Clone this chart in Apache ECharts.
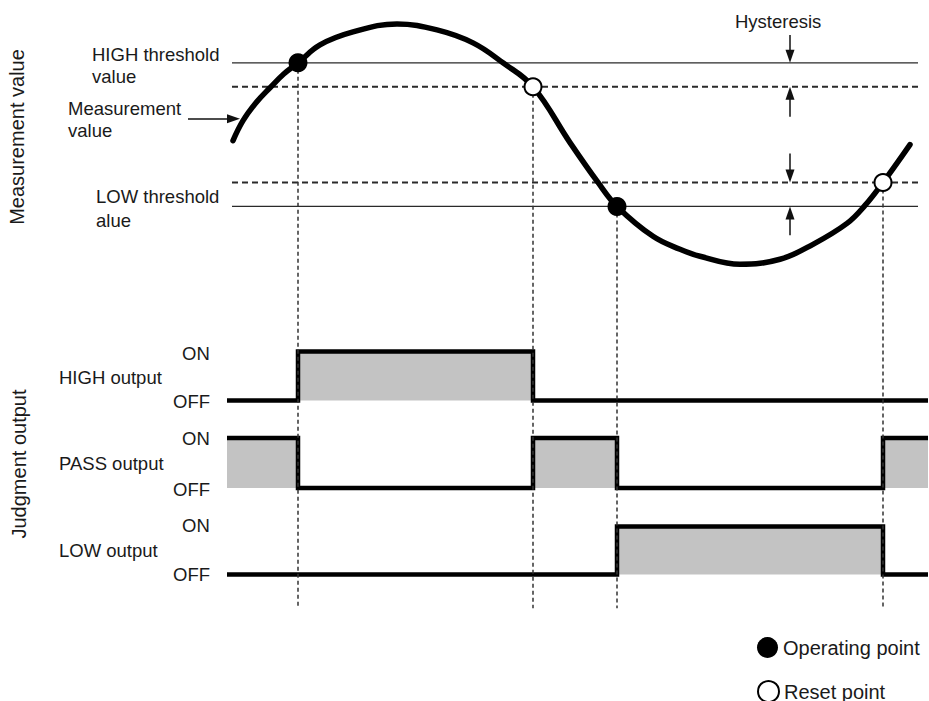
<!DOCTYPE html>
<html><head><meta charset="utf-8">
<script src="https://cdn.jsdelivr.net/npm/echarts@6/dist/echarts.min.js"></script>
<style>html,body{margin:0;padding:0;background:#fff}#c{width:929px;height:701px}</style>
</head><body><div id="c"></div>
<script>
// ---- data (time in arbitrary units, measurement value in arbitrary units) ----
const curveT = [116.5,121.5,128,135,142,149,160,176.5,198.5,218.5,236.5,251.5,266.5,285,299,308.5,326.5,340,350,370,390,406.5,423.5,432.5,441.5,455];
const curveV = [81,91,100,107.5,114.5,120,129,135.5,139.5,136.5,130,120,108,80,60,48,33,26.5,23,19,21.5,29,39.5,48.5,60,79];
const highThreshold = 120, highReset = 108, lowReset = 60, lowThreshold = 48;
const thresholdStart = 116, solidEnd = 459, dashedEnd = 460;
const operatingT = [149, 308.5], operatingV = [120, 48];
const resetT = [266.5, 441.5], resetV = [108, 60];
const dropEnd = -153.5;
const outputTimes = [113.5, 149, 266.5, 308.5, 441.5, 464];
const highStates = [0, 1, 0, 0, 0];
const passStates = [1, 0, 1, 0, 1];
const lowStates  = [0, 0, 0, 1, 0];
const hysteresisT = 395;
const hysArrows = [[134, 120], [93, 108], [74.5, 60], [33.5, 48]]; // [from, tip]
const measArrow = {fromT: 94, tipT: 120, v: 92};
const legendNames = ['Operating point', 'Reset point'];

const FONT = "'Liberation Sans', Arial, Helvetica, sans-serif";
const INK = '#1a1a1a';
const HEAD = 13; // arrow head length in px; 2 px per unit on both axes of grid 0
const half = HEAD / 2 / 2;

function stepPoints(states) {
  const pts = [];
  states.forEach((s, i) => { pts.push([outputTimes[i], s]); pts.push([outputTimes[i + 1], s]); });
  return pts;
}
function hline(v, x0, x1, dashed, width) {
  return {type:'line', xAxisIndex:0, yAxisIndex:0, data:[[x0, v],[x1, v]], symbol:'none', silent:true, z:2,
    lineStyle:{color:'#2a2a2a', width: width, type: dashed ? [6,4] : 'solid'}};
}
const dropLines = operatingT.map((t,i)=>[t, operatingV[i]]).concat(resetT.map((t,i)=>[t, resetV[i]]))
  .map(p => [{coord:p}, {coord:[p[0], dropEnd]}]);
const arrowLines = hysArrows.map(a => {
  const dir = a[1] > a[0] ? 1 : -1;
  return [{coord:[hysteresisT, a[0]]}, {coord:[hysteresisT, a[1] - dir*half]}];
});
arrowLines.push([{coord:[measArrow.fromT, measArrow.v]}, {coord:[measArrow.tipT - half, measArrow.v]}]);

const outGrids = [
  {top:351.5, height:49},
  {top:438, height:50},
  {top:526.5, height:48}
];
const grids = [{left:0, top:3, width:928, height:700}].concat(outGrids.map(g => ({left:0, width:928, top:g.top, height:g.height})));
const xAxes = grids.map((g,i) => ({type:'value', gridIndex:i, min:0, max:464, show:false}));
const yAxes = [{type:'value', gridIndex:0, min:-200, max:150, show:false}]
  .concat([1,2,3].map(i => ({type:'value', gridIndex:i, min:0, max:1, show:false})));

function outSeries(states, idx) {
  return {type:'line', xAxisIndex:idx, yAxisIndex:idx, data:stepPoints(states), symbol:'none', silent:true, clip:false, z:4,
    lineStyle:{color:'#000', width:4.5, cap:'butt', join:'miter'},
    areaStyle:{color:'#c3c3c3', opacity:1, origin:'start'}};
}

function txt(text, x, y, size, extra) {
  return Object.assign({type:'text', x:x, y:y, silent:true, z:20,
    style:{text:text, fill:INK, font: size + 'px ' + FONT, verticalAlign:'middle', align:'left'}}, extra || {});
}
function legendBox(name, top) {
  return {data:[name], orient:'horizontal', left:757, top:top, padding:0,
    itemWidth:21, itemHeight:21, selectedMode:false,
    textStyle:{fontSize:20, color:INK, fontFamily:FONT}};
}

const option = {
  animation:false,
  backgroundColor:'#fff',
  grid: grids,
  xAxis: xAxes,
  yAxis: yAxes,
  legend: [legendBox(legendNames[0], 637), legendBox(legendNames[1], 680)],
  series: [
    hline(highThreshold, thresholdStart, solidEnd, false, 1.4),
    hline(highReset, thresholdStart, dashedEnd, true, 1.8),
    hline(lowReset, thresholdStart, dashedEnd, true, 1.8),
    hline(lowThreshold, thresholdStart, solidEnd, false, 1.4),
    {type:'line', xAxisIndex:0, yAxisIndex:0, data:[], silent:true, z:1,
      markLine:{silent:true, symbol:['none','none'], label:{show:false},
        lineStyle:{color:'#333', width:1.5, type:[4,3]}, data:dropLines}},
    {type:'line', xAxisIndex:0, yAxisIndex:0, data:[], silent:true, z:3,
      markLine:{silent:true, symbol:['none','triangle'], symbolSize:[9, HEAD], label:{show:false},
        lineStyle:{color:'#111', width:1.5, type:'solid'}, itemStyle:{color:'#111'}, data:arrowLines}},
    {type:'line', xAxisIndex:0, yAxisIndex:0, data:curveT.map((t,i)=>[t, curveV[i]]), smooth:0.4, symbol:'none', silent:true, z:5,
      lineStyle:{color:'#000', width:5.5, cap:'round'}},
    {type:'scatter', name:legendNames[0], xAxisIndex:0, yAxisIndex:0, data:operatingT.map((t,i)=>[t, operatingV[i]]),
      symbol:'circle', symbolSize:19, z:10, silent:true, itemStyle:{color:'#000', opacity:1}},
    {type:'scatter', name:legendNames[1], xAxisIndex:0, yAxisIndex:0, data:resetT.map((t,i)=>[t, resetV[i]]),
      symbol:'circle', symbolSize:17, z:10, silent:true, itemStyle:{color:'#fff', borderColor:'#000', borderWidth:2, opacity:1}},
    outSeries(highStates, 1),
    outSeries(passStates, 2),
    outSeries(lowStates, 3)
  ],
  graphic: [
    txt('Measurement value', 17, 137, 20, {rotation:Math.PI/2, style:{text:'Measurement value', fill:INK, font:'20px '+FONT, align:'center', verticalAlign:'middle'}}),
    txt('Judgment output', 19, 464, 20, {rotation:Math.PI/2, style:{text:'Judgment output', fill:INK, font:'20px '+FONT, align:'center', verticalAlign:'middle'}}),
    txt('HIGH threshold', 92, 54, 18.5),
    txt('value', 92, 76, 18.5),
    txt('Measurement', 68, 108, 18.5),
    txt('value', 68, 130, 18.5),
    txt('LOW threshold', 96, 196, 18.5),
    txt('alue', 96, 220, 18.5),
    txt('Hysteresis', 735, 21, 18.5),
    txt('ON', 182, 353, 18.5),
    txt('HIGH output', 59, 377, 18.5),
    txt('OFF', 173, 401, 18.5),
    txt('ON', 182, 438, 18.5),
    txt('PASS output', 59, 463, 18.5),
    txt('OFF', 173, 489, 18.5),
    txt('ON', 182, 525, 18.5),
    txt('LOW output', 59, 550, 18.5),
    txt('OFF', 173, 574, 18.5)
  ]
};
const chart = echarts.init(document.getElementById('c'), null, {renderer:'svg'});
chart.setOption(option);
</script>
</body></html>
